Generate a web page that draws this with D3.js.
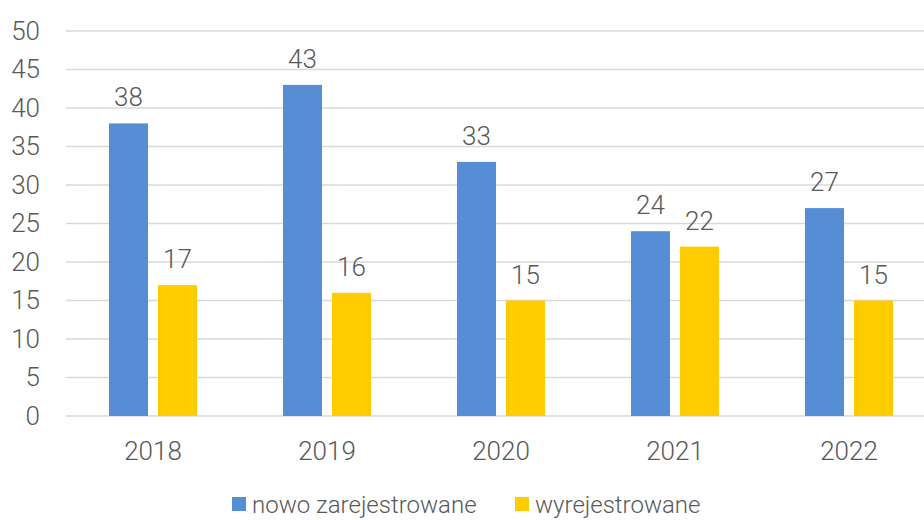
<!DOCTYPE html>
<html>
<head>
<meta charset="utf-8">
<script src="https://cdn.jsdelivr.net/npm/d3@7"></script>
<style>
  body { margin: 0; background: #fff; }
  svg text { font-family: Roboto, "Liberation Sans", sans-serif; font-weight: 300; fill: #595959; }
</style>
</head>
<body>
<div id="chart"></div>
<script>
// ---- data ----
var years = ["2018", "2019", "2020", "2021", "2022"];
var series = ["nowo zarejestrowane", "wyrejestrowane"];
var nowo = [38, 43, 33, 24, 27];
var wyrej = [17, 16, 15, 22, 15];
var yTicks = [0, 5, 10, 15, 20, 25, 30, 35, 40, 45, 50];
var colors = ["#558ED5", "#FFCC00"];

var width = 924, height = 520;

var svg = d3.select("#chart").append("svg")
    .attr("width", width)
    .attr("height", height);

var x0 = d3.scaleBand().domain(years).range([66, 936]);
var x1 = d3.scaleBand().domain(series).range([0, x0.bandwidth()])
    .paddingInner(0.204).paddingOuter(0.878);
var y = d3.scaleLinear().domain([0, 50]).range([416, 31]);

// gridlines
svg.append("g")
    .selectAll("line")
    .data(yTicks)
    .enter().append("line")
    .attr("x1", 66).attr("x2", width)
    .attr("y1", function(d) { return y(d); })
    .attr("y2", function(d) { return y(d); })
    .attr("stroke", "#d9d9d9")
    .attr("stroke-width", 1.5);

// y labels
var yAxis = d3.axisLeft(y).tickValues(yTicks).tickSize(0).tickPadding(0);
var ya = svg.append("g").attr("transform", "translate(40,0)").call(yAxis);
ya.select(".domain").remove();
ya.selectAll("text")
    .attr("font-size", 26)
    .style("font-family", "Roboto, 'Liberation Sans', sans-serif")
    .attr("fill", "#595959");

// x labels
var xAxis = d3.axisBottom(x0).tickSize(0).tickPadding(0);
var xa = svg.append("g").attr("transform", "translate(0,442)").call(xAxis);
xa.select(".domain").remove();
xa.selectAll("text")
    .attr("font-size", 26)
    .attr("dy", "0.71em")
    .style("font-family", "Roboto, 'Liberation Sans', sans-serif")
    .attr("fill", "#595959");

// bars
var rows = years.map(function(yr, i) {
  return { year: yr, vals: [nowo[i], wyrej[i]] };
});

var groups = svg.selectAll(".grp")
    .data(rows)
    .enter().append("g")
    .attr("class", "grp")
    .attr("transform", function(d) { return "translate(" + x0(d.year) + ",0)"; });

groups.selectAll("rect")
    .data(function(d) { return d.vals.map(function(v, j) { return { s: series[j], v: v, c: colors[j] }; }); })
    .enter().append("rect")
    .attr("x", function(d) { return x1(d.s); })
    .attr("y", function(d) { return y(d.v); })
    .attr("width", x1.bandwidth())
    .attr("height", function(d) { return y(0) - y(d.v); })
    .attr("fill", function(d) { return d.c; });

groups.selectAll("text.val")
    .data(function(d) { return d.vals.map(function(v, j) { return { s: series[j], v: v }; }); })
    .enter().append("text")
    .attr("class", "val")
    .attr("x", function(d) { return x1(d.s) + x1.bandwidth() / 2; })
    .attr("y", function(d) { return y(d.v) - 17; })
    .attr("text-anchor", "middle")
    .attr("font-size", 26)
    .text(function(d) { return d.v; });

// legend (kept just inside the bottom edge)
var legX = [232, 515];
var leg = svg.selectAll(".leg")
    .data(series)
    .enter().append("g")
    .attr("class", "leg")
    .attr("transform", function(d, i) { return "translate(" + legX[i] + ",497)"; });
leg.append("rect")
    .attr("width", 14).attr("height", 14)
    .attr("fill", function(d, i) { return colors[i]; });
leg.append("text")
    .attr("x", 20).attr("y", 16)
    .attr("font-size", 24)
    .text(function(d) { return d; });
</script>
</body>
</html>
